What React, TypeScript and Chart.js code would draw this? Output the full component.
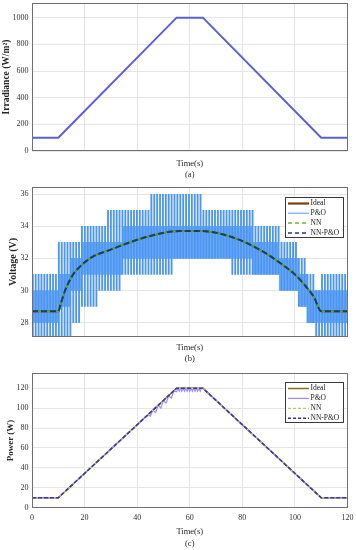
import React, { useEffect, useRef } from 'react';
import { Chart, registerables } from 'chart.js';

Chart.register(...registerables);

const FONT = '"Liberation Serif", "Times New Roman", Times, serif';

// ---------- data ----------
const timeMin = 0;
const timeMax = 120;
const timeStep = 20;

// (a) irradiance
const irrTime = [0, 10, 55, 65, 110, 120];
const irrValue = [100, 100, 1000, 1000, 100, 100];

// (b) voltage
const voltTime = [0, 10, 11, 12.6, 15.1, 17.7, 22.8, 29.2, 35.5, 41.9, 48.3, 53.3, 56, 65, 70, 75.4, 81.8, 88.1, 94.5, 99.6, 103.4, 107.2, 110, 120];
const voltIdeal = [28.7, 28.7, 29.2, 30.0, 30.86, 31.4, 32.08, 32.5, 32.9, 33.26, 33.53, 33.68, 33.7, 33.7, 33.6, 33.36, 32.95, 32.4, 31.7, 31.06, 30.4, 29.6, 28.7, 28.7];
const voltNN = [28.7, 28.7, 29.2, 30.0, 30.86, 31.4, 32.08, 32.5, 32.9, 33.26, 33.53, 33.68, 33.7, 33.7, 33.6, 33.36, 32.95, 32.4, 31.7, 31.06, 30.4, 29.6, 28.7, 28.7];
const voltNNPO = [28.7, 28.7, 29.2, 30.0, 30.86, 31.4, 32.08, 32.5, 32.9, 33.26, 33.53, 33.68, 33.7, 33.7, 33.6, 33.36, 32.95, 32.4, 31.7, 31.06, 30.4, 29.6, 28.7, 28.7];

// P&O voltage oscillation envelope, per time segment
const poSegStart = [0, 10, 15, 18, 19, 25, 28, 34, 45, 54, 65, 76, 84, 94, 101, 104.5, 108, 110];
const poSegEnd = [10, 15, 18, 19, 25, 28, 34, 45, 54, 65, 76, 84, 94, 101, 104.5, 108, 110, 120];
const poOuterLow = [27.1, 27.1, 28, 28, 29, 30, 30, 31, 31, 32, 32, 31, 31, 30, 29, 28, 27.1, 27.1];
const poOuterHigh = [31, 33, 33, 34, 34, 34, 35, 35, 36, 36, 35, 35, 34, 33, 32, 31, 30, 31];
const poInnerLow = [28, 29, 30, 30, 31, 31, 31, 32, 32, 32, 32, 32, 31, 30, 29, 28, 28, 28];
const poInnerHigh = [30, 31, 32, 32, 33, 33, 33, 34, 34, 34, 34, 34, 33, 32, 31, 30, 30, 30];
const poStrokeGap = 1.1; // seconds between oscillation strokes

// (c) power
const powTime = [0, 10, 55, 65, 110, 120];
const powIdeal = [10, 10, 120, 120, 10, 10];
const powNN = [10, 10, 120, 120, 10, 10];
const powNNPO = [10, 10, 120, 120, 10, 10];
const powPOTime = [0, 10, 44, 45, 46, 47, 48, 49, 50, 51, 52, 53, 54, 55, 55.5, 56, 56.5, 57, 57.5, 58, 58.5, 59, 59.5, 60, 60.5, 61, 61.5, 62, 62.5, 63, 63.5, 64, 64.5, 65, 110, 120];
const powPOValue = [10, 10, 93.1, 92.0, 98.0, 95.5, 102.9, 100.0, 107.8, 105.0, 112.7, 110.0, 117.6, 116.5, 120, 117, 120, 117, 120, 117, 120, 117, 120, 117, 120, 117, 120, 117, 120, 117, 120, 117, 120, 120, 10, 10];

const legendLabels = ['Ideal', 'P&O', 'NN', 'NN-P&O'];

// ---------- helpers ----------
const xy = (xs: number[], ys: number[]) => xs.map((x, i) => ({ x, y: ys[i] }));

function segIndex(t: number) {
  for (let i = 0; i < poSegStart.length; i++) {
    if (t >= poSegStart[i] && t < poSegEnd[i]) return i;
  }
  return -1;
}

function poStrokes() {
  const outer: any[] = [];
  const pale: any[] = [];
  const inner: any[] = [];
  for (let k = 0; ; k++) {
    const t = 0.3 + k * poStrokeGap;
    if (t >= timeMax) break;
    const i = segIndex(t);
    if (i >= 0) {
      outer.push({ x: t, y: [poOuterLow[i], poOuterHigh[i]] });
    }
    const tp = t + poStrokeGap / 2;
    const j = segIndex(tp);
    if (j >= 0 && tp < timeMax) {
      pale.push({ x: tp, y: [poOuterLow[j], poOuterHigh[j]] });
      inner.push({ x: tp, y: [poInnerLow[j], poInnerHigh[j]] });
    }
  }
  return { outer, pale, inner };
}

const framePlugin = {
  id: 'frame',
  afterDatasetsDraw(chart: any) {
    const { ctx, chartArea: a } = chart;
    ctx.save();
    ctx.strokeStyle = '#707070';
    ctx.lineWidth = 1;
    const l = Math.round(a.left) + 0.5;
    const t = Math.round(a.top) + 0.5;
    const r = Math.round(a.right) - 0.5;
    const b = Math.round(a.bottom) - 0.5;
    ctx.strokeRect(l, t, r - l, b - t);
    ctx.restore();
  },
};

const legendPlugin = {
  id: 'boxLegend',
  afterDraw(chart: any, _args: any, opts: any) {
    const items = opts && opts.items;
    if (!items || !items.length) return;
    const { ctx, chartArea: a } = chart;
    const w = opts.width;
    const h = opts.height;
    const x0 = Math.round(a.right - opts.right - w) + 0.5;
    const y0 = Math.round(a.top + opts.top) + 0.5;
    ctx.save();
    ctx.fillStyle = '#ffffff';
    ctx.fillRect(x0, y0, w, h);
    ctx.strokeStyle = '#3a3a3a';
    ctx.lineWidth = 1;
    ctx.strokeRect(x0, y0, w, h);
    ctx.font = `${opts.fontSize}px ${FONT}`;
    ctx.textBaseline = 'middle';
    ctx.textAlign = 'left';
    for (let i = 0; i < items.length; i++) {
      const it = items[i];
      const y = y0 + opts.first + i * opts.rowH;
      ctx.beginPath();
      ctx.setLineDash(it.dash ? [...it.dash] : []);
      ctx.strokeStyle = it.color;
      ctx.lineWidth = it.width;
      ctx.moveTo(x0 + 2.5, y);
      ctx.lineTo(x0 + 23.5, y);
      ctx.stroke();
      ctx.setLineDash([]);
      ctx.fillStyle = '#1a1a1a';
      ctx.fillText(it.label, x0 + 25, y);
    }
    ctx.restore();
  },
};

const plainTick = (v: any) => String(v);

function xScale(o: { ticks: boolean; height: number; label: string; titleSize: number; lh: number; pb: number; tickPad?: number }) {
  return {
    type: 'linear',
    min: timeMin,
    max: timeMax,
    offset: false,
    ticks: {
      display: o.ticks,
      stepSize: timeStep,
      includeBounds: false,
      autoSkip: false,
      maxRotation: 0,
      padding: o.tickPad ?? 3,
      font: { family: FONT, size: 8 },
      color: '#333333',
      callback: plainTick,
    },
    grid: { color: '#e6e6e6', drawTicks: false, offset: false },
    border: { display: false },
    title: {
      display: true,
      text: ['Time(s)', o.label],
      font: { family: FONT, size: o.titleSize, lineHeight: o.lh },
      color: '#262626',
      padding: { top: 0, bottom: o.pb },
    },
    afterFit: (s: any) => {
      s.height = o.height;
      s.paddingLeft = 0;
      s.paddingRight = 0;
      s.paddingTop = 0;
      s.paddingBottom = 0;
    },
  };
}

function yScale(o: { min: number; max: number; step: number; title: string; titleSize: number; titlePad: number }) {
  return {
    type: 'linear',
    min: o.min,
    max: o.max,
    ticks: {
      stepSize: o.step,
      includeBounds: false,
      padding: 3.5,
      font: { family: FONT, size: 8 },
      color: '#333333',
      callback: plainTick,
    },
    grid: { color: '#e6e6e6', drawTicks: false },
    border: { display: false },
    title: {
      display: true,
      text: o.title,
      font: { family: FONT, size: o.titleSize, weight: 'bold' },
      color: '#262626',
      padding: { top: o.titlePad, bottom: 0 },
    },
    afterFit: (s: any) => {
      s.width = 32;
      s.paddingLeft = 0;
      s.paddingRight = 0;
      s.paddingTop = 0;
      s.paddingBottom = 0;
    },
  };
}

function baseOptions(padTop: number, x: any, y: any, legend?: any) {
  return {
    responsive: false,
    maintainAspectRatio: false,
    animation: false,
    layout: { padding: { top: padTop, right: 8.5, left: 0, bottom: 0 } },
    elements: { point: { radius: 0 }, line: { tension: 0 } },
    plugins: {
      legend: { display: false },
      tooltip: { enabled: false },
      boxLegend: legend || {},
    },
    scales: { x, y },
  };
}

// ---------- configs ----------
function configA() {
  return {
    type: 'line',
    data: {
      datasets: [
        {
          label: 'Irradiance',
          data: xy(irrTime, irrValue),
          borderColor: '#5a5fd8',
          borderWidth: 2,
          pointRadius: 0,
        },
      ],
    },
    options: baseOptions(
      3,
      xScale({ ticks: false, height: 30, label: '(a)', titleSize: 8.5, lh: 1.35, pb: 0.5 }),
      yScale({ min: 0, max: 1110, step: 200, title: 'Irradiance (W/m²)', titleSize: 9.5, titlePad: 1 })
    ),
    plugins: [framePlugin, legendPlugin],
  };
}

function configB() {
  const s = poStrokes();
  return {
    type: 'line',
    data: {
      datasets: [
        { type: 'bar', label: 'P&O pale', data: s.pale, backgroundColor: '#a9cffc', barThickness: 1.7, stack: 'po', borderWidth: 0, order: 12 },
        { type: 'bar', label: 'P&O inner', data: s.inner, backgroundColor: '#70aaf7', barThickness: 1.7, stack: 'po', borderWidth: 0, order: 11 },
        { type: 'bar', label: 'P&O', data: s.outer, backgroundColor: '#4b96f2', barThickness: 1.2, stack: 'po', borderWidth: 0, order: 10 },
        { label: 'Ideal', data: xy(voltTime, voltIdeal), borderColor: '#7b3f12', borderWidth: 1.6, cubicInterpolationMode: 'monotone', order: 3 },
        { label: 'NN', data: xy(voltTime, voltNN), borderColor: '#4fae2c', borderWidth: 1.8, borderDash: [6, 3], borderDashOffset: 3, cubicInterpolationMode: 'monotone', order: 2 },
        { label: 'NN-P&O', data: xy(voltTime, voltNNPO), borderColor: '#1d3d6e', borderWidth: 2, borderDash: [6, 3], cubicInterpolationMode: 'monotone', order: 1 },
      ],
    },
    options: baseOptions(
      6,
      xScale({ ticks: false, height: 29, label: '(b)', titleSize: 8.5, lh: 1.35, pb: 1 }),
      yScale({ min: 27.1, max: 36.45, step: 2, title: 'Voltage (V)', titleSize: 10, titlePad: 7 }),
      {
        items: [
          { label: legendLabels[0], color: '#7b3f12', width: 2.2 },
          { label: legendLabels[1], color: '#8ab8f5', width: 1.5 },
          { label: legendLabels[2], color: '#6cb33a', width: 1.5, dash: [4, 3] },
          { label: legendLabels[3], color: '#2f2f8a', width: 1.5, dash: [4, 3] },
        ],
        right: 5,
        top: 9.7,
        width: 58,
        height: 40,
        first: 6,
        rowH: 9.8,
        fontSize: 7.5,
      }
    ),
    plugins: [framePlugin, legendPlugin],
  };
}

function configC() {
  return {
    type: 'line',
    data: {
      datasets: [
        { label: 'Ideal', data: xy(powTime, powIdeal), borderColor: '#7f6f1e', borderWidth: 1.5, order: 4 },
        { label: 'P&O', data: xy(powPOTime, powPOValue), borderColor: '#a58cff', borderWidth: 1.2, order: 3 },
        { label: 'NN', data: xy(powTime, powNN), borderColor: '#b9c95a', borderWidth: 1.3, borderDash: [4, 3], borderDashOffset: 2, order: 2 },
        { label: 'NN-P&O', data: xy(powTime, powNNPO), borderColor: '#3a38a8', borderWidth: 1.6, borderDash: [4, 2], order: 1 },
      ],
    },
    options: baseOptions(
      11.3,
      xScale({ ticks: true, height: 42.3, label: '(c)', titleSize: 8.5, lh: 1.45, pb: 0, tickPad: 5 }),
      yScale({ min: 0, max: 135, step: 20, title: 'Power (W)', titleSize: 9, titlePad: 5 }),
      {
        items: [
          { label: legendLabels[0], color: '#7f6f1e', width: 1.5 },
          { label: legendLabels[1], color: '#a58cff', width: 1.3 },
          { label: legendLabels[2], color: '#b9c95a', width: 1.3, dash: [3, 2] },
          { label: legendLabels[3], color: '#35338f', width: 1.5, dash: [3, 2] },
        ],
        right: 5,
        top: 8.4,
        width: 58,
        height: 40,
        first: 6,
        rowH: 9.9,
        fontSize: 7.5,
      }
    ),
    plugins: [framePlugin, legendPlugin],
  };
}

function Panel({ top, height, makeConfig }: { top: number; height: number; makeConfig: () => any }) {
  const ref = useRef<HTMLCanvasElement>(null);
  useEffect(() => {
    if (!ref.current) return;
    const chart = new Chart(ref.current, makeConfig());
    return () => chart.destroy();
  }, [makeConfig]);
  return (
    <canvas
      ref={ref}
      width={356}
      height={height}
      style={{ position: 'absolute', left: 0, top, width: 356, height, display: 'block' }}
    />
  );
}

export default function App() {
  return (
    <div style={{ position: 'absolute', left: 0, top: 0, width: 356, height: 550, background: '#ffffff', overflow: 'hidden' }}>
      <Panel top={0} height={181} makeConfig={configA} />
      <Panel top={181} height={185} makeConfig={configB} />
      <Panel top={362} height={188} makeConfig={configC} />
    </div>
  );
}
